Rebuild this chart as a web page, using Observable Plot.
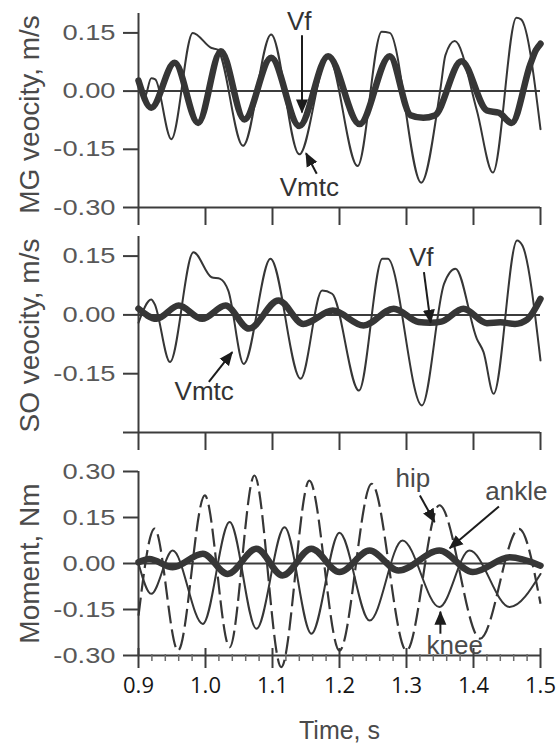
<!DOCTYPE html>
<html><head><meta charset="utf-8">
<script src="https://cdn.jsdelivr.net/npm/d3@7"></script>
<script src="https://cdn.jsdelivr.net/npm/@observablehq/plot@0.6"></script>
<style>
html,body{margin:0;padding:0;background:#fff;}
#chart{position:relative;width:559px;height:748px;overflow:hidden;background:#fff;}
#chart svg{position:absolute;left:0;overflow:visible;}
</style></head><body><div id="chart"></div>
<script>
// ---- ticks & titles ----
const timeTicks = [0.9, 1.0, 1.1, 1.2, 1.3, 1.4, 1.5];
const minorTimeTicks = [0.92,0.94,0.96,0.98,1.02,1.04,1.06,1.08,1.12,1.14,1.16,1.18,1.22,1.24,1.26,1.28,1.32,1.34,1.36,1.38,1.42,1.44,1.46,1.48];
const velocityTicks = [0.15, 0, -0.15, -0.30];
const momentTicks = [0.30, 0.15, 0, -0.15, -0.30];
const panelTitles = ["MG veocity, m/s", "SO veocity, m/s", "Moment, Nm"];
const xTitle = "Time, s";

// ---- MG velocity (m/s) : [time s, value] ----
const mgVf = [[0.900,0.027],[0.919,-0.043],[0.954,0.073],[0.989,-0.082],[1.023,0.103],[1.058,-0.073],[1.098,0.086],[1.140,-0.090],[1.183,0.090],[1.230,-0.085],[1.275,0.090],[1.306,-0.062],[1.325,-0.069],[1.342,-0.063],[1.382,0.077],[1.420,-0.050],[1.438,-0.056],[1.457,-0.082],[1.485,0.070],[1.493,0.105],[1.500,0.122]];
const mgVmtc = [[0.900,0.030],[0.909,-0.017],[0.919,0.033],[0.925,0.030],[0.949,-0.124],[0.981,0.150],[1.009,0.111],[1.018,0.107],[1.056,-0.141],[1.098,0.146],[1.140,-0.163],[1.183,0.092],[1.227,-0.193],[1.263,0.153],[1.275,0.150],[1.322,-0.236],[1.351,0.010],[1.358,0.092],[1.372,0.129],[1.405,-0.050],[1.429,-0.210],[1.464,0.189],[1.471,0.185],[1.500,-0.098]];

// ---- SO velocity (m/s) ----
const soVf = [[0.900,0.016],[0.927,-0.010],[0.960,0.024],[0.995,-0.010],[1.030,0.024],[1.065,-0.035],[1.109,0.037],[1.146,-0.023],[1.190,0.011],[1.236,-0.027],[1.281,0.016],[1.318,-0.018],[1.335,-0.020],[1.352,-0.017],[1.385,0.016],[1.420,-0.021],[1.440,-0.019],[1.462,-0.023],[1.480,-0.012],[1.500,0.041]];
const soVmtc = [[0.900,-0.020],[0.919,0.039],[0.924,0.028],[0.947,-0.120],[0.982,0.160],[1.009,0.096],[1.022,0.092],[1.034,0.062],[1.057,-0.125],[1.097,0.143],[1.142,-0.163],[1.174,0.062],[1.189,0.054],[1.229,-0.193],[1.264,0.143],[1.272,0.143],[1.323,-0.231],[1.356,0.079],[1.373,0.118],[1.405,-0.061],[1.415,-0.095],[1.430,-0.201],[1.465,0.190],[1.473,0.177],[1.500,-0.116]];

// ---- Moments (Nm) ----
const ankleMoment = [[0.900,0.004],[0.916,0.015],[0.951,-0.012],[0.996,0.032],[1.033,-0.034],[1.076,0.048],[1.115,-0.039],[1.158,0.048],[1.200,-0.028],[1.245,0.042],[1.288,-0.023],[1.349,0.042],[1.399,-0.028],[1.454,0.020],[1.500,-0.007]];
const kneeMoment = [[0.900,0.000],[0.919,-0.099],[0.951,0.042],[0.996,-0.197],[1.036,0.135],[1.076,-0.213],[1.118,0.118],[1.158,-0.229],[1.200,0.100],[1.245,-0.186],[1.294,0.075],[1.349,-0.142],[1.394,0.042],[1.454,-0.142],[1.500,-0.034]];
const hipMoment = [[0.900,-0.170],[0.924,0.114],[0.959,-0.284],[0.999,0.222],[1.036,-0.273],[1.073,0.287],[1.113,-0.338],[1.155,0.270],[1.200,-0.284],[1.248,0.260],[1.300,-0.284],[1.349,0.190],[1.410,-0.245],[1.468,0.113],[1.500,-0.131]];

// ---- annotations: labels and arrows (data coordinates) ----
const mgLabels = [{text:"Vf", t:1.140, v:0.180}, {text:"Vmtc", t:1.155, v:-0.248}];
const mgArrows = [{t1:1.144, v1:0.144, t2:1.144, v2:-0.055}, {t1:1.166, v1:-0.213, t2:1.150, v2:-0.160}];
const soLabels = [{text:"Vf", t:1.322, v:0.147}, {text:"Vmtc", t:0.998, v:-0.197}];
const soArrows = [{t1:1.326, v1:0.109, t2:1.336, v2:-0.020}, {t1:1.005, v1:-0.171, t2:1.040, v2:-0.095}];
const momLabels = [{text:"hip", t:1.3096, v:0.277}, {text:"ankle", t:1.464, v:0.235}, {text:"knee", t:1.372, v:-0.268}];
const momArrows = [{t1:1.320, v1:0.222, t2:1.342, v2:0.135}, {t1:1.438, v1:0.186, t2:1.3645, v2:0.050}, {t1:1.3506, v1:-0.229, t2:1.3506, v2:-0.157}];

const INK = "#363636", AXIS = "#3c3c3c", TICKTXT = "#585858";
const FONT = "'Liberation Sans', Arial, Helvetica, sans-serif";
const W = 559, ML = 138, MR = 19;
const fmt2 = d => d.toFixed(2);

function panel({top, height, mt, mb, yDomain, yTicks, yLabelFilter, title, titleDy, lines, labels, arrows, labelFill, bottom}) {
  const frameH = height - mt - mb;
  const marks = [
    Plot.ruleY([0], {stroke: AXIS, strokeWidth: 2}),
    Plot.ruleX([0.9], {stroke: AXIS, strokeWidth: 2}),
    Plot.ruleY([yDomain[0]], {stroke: AXIS, strokeWidth: 2}),
    Plot.tickY(yTicks, {y: d => d, stroke: AXIS, strokeWidth: 2, insetLeft: -15, insetRight: W - ML - MR}),
    Plot.text(yTicks.filter(yLabelFilter), {y: d => d, text: fmt2, frameAnchor: "left", dx: -23, textAnchor: "end", fontSize: 22, fill: TICKTXT}),
    Plot.text([title], {text: d => d, frameAnchor: "left", textAnchor: "middle", lineAnchor: "middle", dx: -108, dy: titleDy, rotate: -90, fontSize: 28, fill: "#4a4a4a"})
  ];
  if (!bottom) {
    marks.push(Plot.tickX(timeTicks, {x: d => d, stroke: AXIS, strokeWidth: 2, insetTop: frameH, insetBottom: -18}));
  } else {
    marks.push(Plot.tickX(timeTicks, {x: d => d, stroke: AXIS, strokeWidth: 2, insetTop: frameH - 7, insetBottom: -13}));
    marks.push(Plot.tickX(minorTimeTicks, {x: d => d, stroke: "#6a6a6a", strokeWidth: 1.5, insetTop: frameH - 1, insetBottom: -6}));
    marks.push(Plot.text(timeTicks, {x: d => d, text: d => d.toFixed(1), frameAnchor: "bottom", dy: 22, lineAnchor: "top", fontSize: 22, fontFamily: "'Open Sans', 'Noto Sans', sans-serif", fill: "#151515"}));
    marks.push(Plot.text([xTitle], {text: d => d, frameAnchor: "bottom", textAnchor: "middle", dy: 83, fontSize: 25, fill: "#4a4a4a"}));
  }
  for (const l of lines) {
    marks.push(Plot.line(l.data, {x: d => d[0], y: d => d[1], curve: "monotone-x", stroke: INK, strokeWidth: l.w, strokeDasharray: l.dash || null, strokeLinejoin: "round", strokeLinecap: l.dash ? "butt" : "round"}));
  }
  marks.push(Plot.link(arrows, {x1: "t1", y1: "v1", x2: "t2", y2: "v2", stroke: "#1c1c1c", strokeWidth: 2, markerEnd: "arrow"}));
  marks.push(Plot.text(labels, {x: "t", y: "v", text: "text", fontSize: 26, fill: labelFill}));

  const svg = Plot.plot({
    width: W, height, marginLeft: ML, marginRight: MR, marginTop: mt, marginBottom: mb,
    x: {domain: [0.9, 1.5], axis: null},
    y: {domain: yDomain, axis: null},
    style: {fontFamily: FONT, background: "transparent", overflow: "visible"},
    marks
  });
  svg.querySelectorAll("marker").forEach(m => {
    m.setAttribute("viewBox", "-13 -7 15 14");
    m.setAttribute("markerWidth", "15");
    m.setAttribute("markerHeight", "14");
    m.setAttribute("markerUnits", "userSpaceOnUse");
    m.setAttribute("fill", "#1c1c1c");
    m.setAttribute("stroke", "none");
    const p = m.querySelector("path");
    if (p) p.setAttribute("d", "M-13,-6L1,0L-13,6Z");
  });
  svg.style.top = top + "px";
  return svg;
}

const chart = document.getElementById("chart");
const svgs = [
  panel({top: 0, height: 225, mt: 13, mb: 18, yDomain: [-0.3, 0.2], yTicks: velocityTicks, yLabelFilter: () => true,
    title: panelTitles[0], titleDy: 4,
    lines: [{data: mgVmtc, w: 2}, {data: mgVf, w: 6.5}], labels: mgLabels, arrows: mgArrows, labelFill: "#333"}),
  panel({top: 225, height: 233, mt: 11, mb: 26, yDomain: [-0.3, 0.2], yTicks: velocityTicks, yLabelFilter: d => d > -0.3,
    title: panelTitles[1], titleDy: 1,
    lines: [{data: soVmtc, w: 2}, {data: soVf, w: 6.5}], labels: soLabels, arrows: soArrows, labelFill: "#333"}),
  panel({top: 458, height: 290, mt: 13, mb: 93, yDomain: [-0.3, 0.3], yTicks: momentTicks, yLabelFilter: () => true,
    title: panelTitles[2], titleDy: 0,
    lines: [{data: hipMoment, w: 2.2, dash: "18,6"}, {data: kneeMoment, w: 2}, {data: ankleMoment, w: 6.5}], labels: momLabels, arrows: momArrows, labelFill: "#4a4a4a", bottom: true})
];
svgs.forEach(s => chart.appendChild(s));
// widen the y tick labels, as in the horizontally stretched original
svgs.forEach(s => s.querySelectorAll("text").forEach(t => {
  if (/^-?\d\.\d\d$/.test(t.textContent)) {
    const len = t.getComputedTextLength();
    t.setAttribute("textLength", (len * 1.24).toFixed(1));
    t.setAttribute("lengthAdjust", "spacingAndGlyphs");
  }
}));
</script></body></html>
